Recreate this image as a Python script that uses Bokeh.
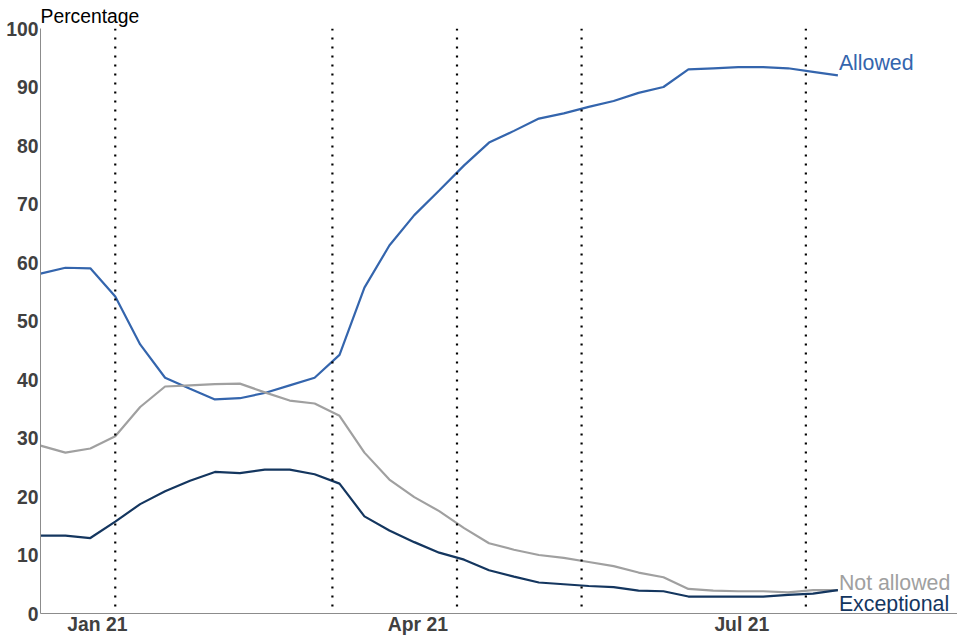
import pandas as pd
from bokeh.plotting import figure
from bokeh.models import Range1d, FixedTicker, DatetimeTickFormatter, Span, ColumnDataSource
from bokeh.core.properties import value
from bokeh.embed import file_html
from bokeh.resources import INLINE

# ---- data ----
dates = pd.date_range("2020-12-16", periods=33, freq="7D")

allowed = [58.1, 59.1, 59.0, 54.2, 46.0, 40.3, 38.4, 36.6, 36.8, 37.7, 39.0, 40.3, 44.2,
           55.7, 62.9, 68.1, 72.3, 76.6, 80.5, 82.5, 84.6, 85.5, 86.6, 87.6, 89.0, 90.0,
           93.0, 93.2, 93.4, 93.4, 93.2, 92.6, 92.0]
not_allowed = [28.7, 27.5, 28.2, 30.3, 35.3, 38.8, 39.0, 39.2, 39.3, 37.8, 36.4, 35.9, 33.8,
               27.5, 22.9, 19.9, 17.5, 14.6, 12.0, 10.9, 10.0, 9.5, 8.8, 8.1, 7.0, 6.2,
               4.2, 3.9, 3.8, 3.8, 3.6, 4.0, 4.0]
exceptional = [13.3, 13.3, 12.9, 15.7, 18.7, 20.9, 22.7, 24.2, 24.0, 24.6, 24.6, 23.8, 22.2,
               16.6, 14.2, 12.2, 10.4, 9.2, 7.4, 6.3, 5.3, 5.0, 4.7, 4.5, 3.9, 3.8,
               2.9, 2.9, 2.9, 2.9, 3.2, 3.4, 4.0]

event_dates = ["2021-01-06", "2021-03-08", "2021-04-12", "2021-05-17", "2021-07-19"]
tick_dates = ["2021-01-01", "2021-04-01", "2021-07-01"]
series_names = ["Allowed", "Not allowed", "Exceptional"]
series_colors = ["#3465ad", "#a0a0a0", "#14365f"]
label_offsets = [-12, -7, 14]

FONT = "Liberation Sans"
TICK_COLOR = "#404040"

def ms(d):
    return pd.Timestamp(d).value / 1e6

DAY = 86400000.0
x_start = ms(dates[0])
x_end = x_start + 257.6 * DAY

p = figure(frame_width=917, frame_height=585, x_axis_type="datetime",
           x_range=Range1d(x_start, x_end), y_range=Range1d(0, 100),
           output_backend="svg", toolbar_location=None,
           min_border_left=40, min_border_top=28, min_border_bottom=0, min_border_right=0)

p.title.text = "Percentage"
p.title.text_font = FONT
p.title.text_font_size = "14.5pt"
p.title.text_font_style = "normal"
p.title.text_color = "black"
p.title.align = "left"
p.title.vertical_align = "top"
p.title.text_line_height = 0.8
p.title.standoff = 0

p.outline_line_color = None
p.xgrid.grid_line_color = None
p.ygrid.grid_line_color = None
p.background_fill_color = "white"
p.border_fill_color = "white"

src = ColumnDataSource(dict(date=dates, allowed=allowed, not_allowed=not_allowed,
                            exceptional=exceptional))
cols = ["allowed", "not_allowed", "exceptional"]
for col, name, color, off in zip(cols, series_names, series_colors, label_offsets):
    p.line("date", col, source=src, line_color=color, line_width=2.2)
    last_val = src.data[col][-1]
    p.text(x=[dates[-1]], y=[last_val], text=[name], text_font=value(FONT),
           text_font_size=value("16pt"), text_color=color, text_align="left",
           text_baseline="middle", x_offset=1, y_offset=off)

for d in event_dates:
    p.add_layout(Span(location=ms(d), dimension="height", line_color="black",
                      line_width=2.2, line_dash="2 7"))

# axes
p.xaxis.ticker = FixedTicker(ticks=[ms(d) for d in tick_dates])
p.xaxis.formatter = DatetimeTickFormatter(days="%b %y", months="%b %y", years="%b %y")
p.yaxis.ticker = FixedTicker(ticks=list(range(0, 101, 10)))
for ax in (p.xaxis, p.yaxis):
    ax.axis_label = None
    ax.axis_line_color = "#8c8c8c"
    ax.axis_line_width = 1
    ax.major_tick_line_color = None
    ax.minor_tick_line_color = None
    ax.major_tick_out = 0
    ax.major_tick_in = 0
    ax.minor_tick_out = 0
    ax.minor_tick_in = 0
    ax.major_label_text_font = FONT
    ax.major_label_text_font_size = "14.5pt"
    ax.major_label_text_font_style = "bold"
    ax.major_label_text_color = TICK_COLOR
p.yaxis.major_label_standoff = 2
p.xaxis.major_label_standoff = 0
p.xaxis.major_label_text_line_height = 0.7

open("out.html", "w").write(file_html(p, INLINE))
